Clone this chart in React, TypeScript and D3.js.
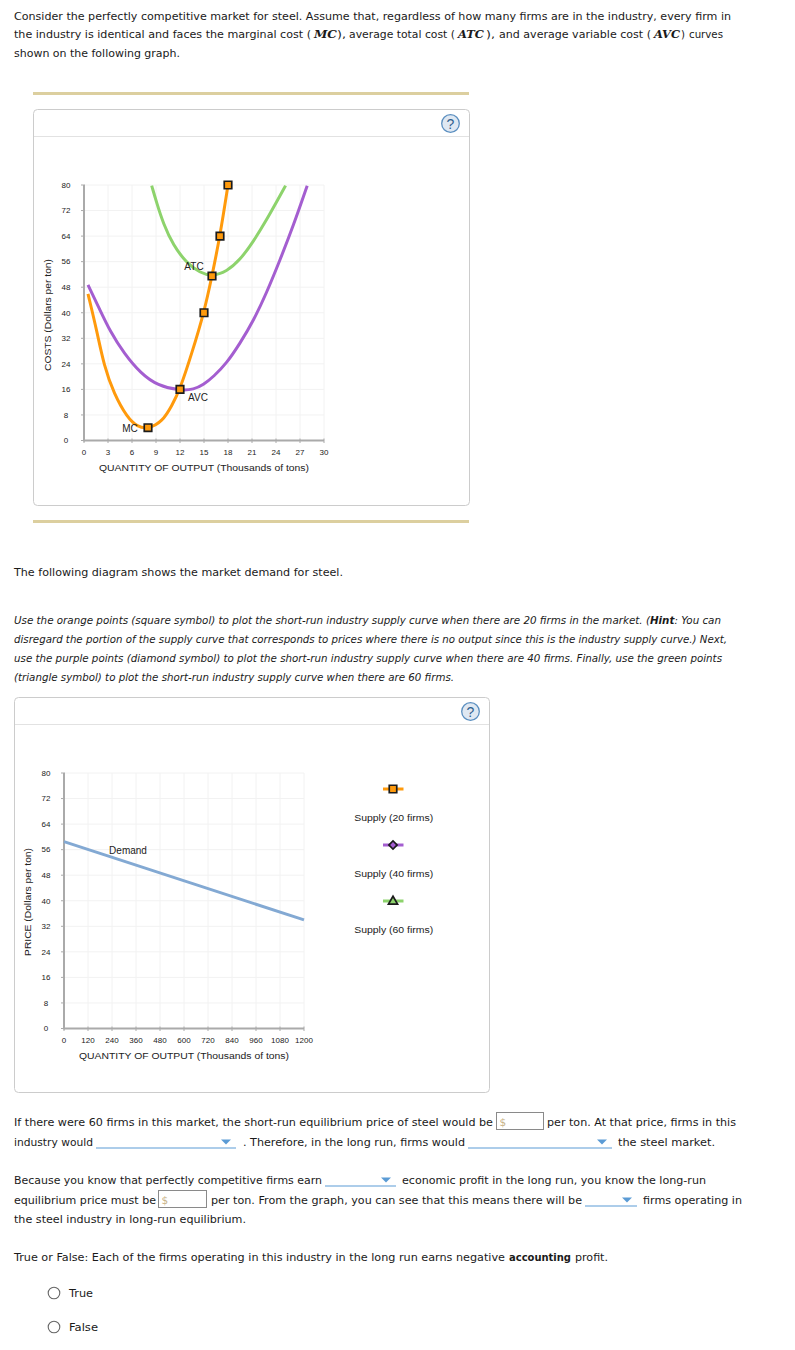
import React from "react";
import * as d3 from "d3";

// ---------- data ----------
const priceTicks = [0, 8, 16, 24, 32, 40, 48, 56, 64, 72, 80];
const firmQtyTicks = [0, 3, 6, 9, 12, 15, 18, 21, 24, 27, 30];
const marketQtyTicks = [0, 120, 240, 360, 480, 600, 720, 840, 960, 1080, 1200];

const mcCurve: [number, number][] = [[0.5, 45.9], [1.6, 34.4], [2.5, 23.4], [3.75, 14.6], [5.4, 7.2], [6.67, 4.3], [8, 3.6], [9.8, 5.9], [11, 11], [12, 16], [13.5, 27.5], [15, 40], [16, 51.5], [17, 64], [18, 80]];
const avcCurve: [number, number][] = [[0.5, 48.7], [1.9, 41.4], [3.3, 34], [5, 27.3], [7.1, 21], [9.2, 17.2], [12, 15.6], [13.75, 16], [14.9, 17.4], [16.2, 20], [17.83, 24.2], [19.5, 30.4], [21.2, 37.6], [22.8, 46.1], [24.5, 56.5], [26.2, 67.5], [27.9, 79.8]];
const atcCurve: [number, number][] = [[8.46, 79.8], [9.1, 74.3], [9.9, 68], [11.17, 61], [12.83, 55.6], [14.5, 52.5], [16, 51.4], [17.83, 52.9], [19.5, 56.5], [21.2, 62.4], [22.8, 69], [24.2, 75.3], [25.2, 79.8]];
const mcPoints: [number, number][] = [[8, 4], [12, 16], [15, 40], [16, 51.5], [17, 64], [18, 80]];
const demandLine: [number, number][] = [[0, 58.5], [1200, 34]];

const firmLabels: [string, number, number][] = [["ATC", 13.75, 54.65], ["AVC", 14.25, 13.6], ["MC", 5.75, 3.9]];
const marketLabels: [string, number, number][] = [["Demand", 320, 55.8]];
const legendNames = ["Supply (20 firms)", "Supply (40 firms)", "Supply (60 firms)"];

// text runs: [text, x start, x end, baseline, style]
type Run = [string, number, number, number, string?];
const hintParts = ["Use the orange points (square symbol) to plot the short-run industry supply curve when there are 20 firms in the market. (", "Hint", ": You can"];
const bodyRuns: Run[] = [
  ["Consider the perfectly competitive market for steel. Assume that, regardless of how many firms are in the industry, every firm in", 14, 731, 20],
  ["the industry is identical and faces the marginal cost (", 14, 311, 38],
  ["MC", 314, 337, 38, "m"],
  ["),", 337, 346, 38],
  ["average total cost (", 349, 455, 38],
  ["ATC", 458, 484, 38, "m"],
  ["),", 486, 495, 38],
  ["and average variable cost (", 499, 651, 38],
  ["AVC", 654, 680, 38, "m"],
  [")", 681, 685, 38],
  ["curves", 689, 723, 38],
  ["shown on the following graph.", 14, 180, 57],
  ["The following diagram shows the market demand for steel.", 14, 343, 576],
  ["disregard the portion of the supply curve that corresponds to prices where there is no output since this is the industry supply curve.) Next,", 14, 727, 643, "i"],
  ["use the purple points (diamond symbol) to plot the short-run industry supply curve when there are 40 firms. Finally, use the green points", 14, 722, 662, "i"],
  ["(triangle symbol) to plot the short-run industry supply curve when there are 60 firms.", 14, 454, 681, "i"],
  ["If there were 60 firms in this market, the short-run equilibrium price of steel would be", 14, 493, 1126],
  ["per ton. At that price, firms in this", 547, 736, 1126],
  ["industry would", 14, 93, 1146],
  [". Therefore, in the long run, firms would", 243, 465, 1146],
  ["the steel market.", 618, 715, 1146],
  ["Because you know that perfectly competitive firms earn", 14, 322, 1184],
  ["economic profit in the long run, you know the long-run", 402, 706, 1184],
  ["equilibrium price must be", 14, 156, 1204],
  ["per ton. From the graph, you can see that this means there will be", 211, 582, 1204],
  ["firms operating in", 643, 742, 1204],
  ["the steel industry in long-run equilibrium.", 14, 246, 1223],
  ["True or False: Each of the firms operating in this industry in the long run earns negative", 14, 505, 1261],
  ["accounting", 509, 571, 1261, "b"],
  ["profit.", 575, 608, 1261],
  ["True", 69, 93, 1297],
  ["False", 69, 98, 1331],
];
const dropdowns: [number, number, number][] = [[96, 236, 1148], [468, 612, 1148], [325, 396, 1186], [585, 637, 1206]];
const inputBoxes: [number, number, number, number][] = [[497, 1112, 47, 18], [159, 1190, 48, 18]];
const radioYs = [1293, 1327];

const SANS = "'Liberation Sans', Arial, sans-serif";
const BODY = "'DejaVu Sans', Verdana, sans-serif";
const C = { mc: "#ff9a0c", avc: "#a45ed0", atc: "#8dd36c", dem: "#83a9d3", grid: "#f2f2f2", axis: "#aaaaaa", ink: "#222222" };

const curveLine = (x: d3.ScaleLinear<number, number>, y: d3.ScaleLinear<number, number>) =>
  d3.line<[number, number]>().x(d => x(d[0])).y(d => y(d[1])).curve(d3.curveBasis);

function Panel({ x, y, w, h, head }: { x: number; y: number; w: number; h: number; head: number }) {
  const cx = x + w - 18.5;
  const cy = y + 14.5;
  return (
    <g>
      <rect x={x + 0.5} y={y + 0.5} width={w} height={h} rx={4} fill="#fff" stroke="#cccccc" />
      <line x1={x + 1} x2={x + w} y1={head + 0.5} y2={head + 0.5} stroke="#e2e2e2" />
      <circle cx={cx} cy={cy} r={8.8} fill="#dfe8f2" stroke="#5b8fc0" strokeWidth={1.3} />
      <text x={cx} y={cy + 5} textAnchor="middle" fontFamily={SANS} fontSize={14} fontWeight={400} fill="#2f5f8f">?</text>
    </g>
  );
}

function Axes({ x, y, xTicks, yTitle, yTitleX, yLen, yTitleMid, xTitleLeft, yLabelX }: {
  x: d3.ScaleLinear<number, number>; y: d3.ScaleLinear<number, number>; xTicks: number[];
  yTitle: string; yTitleX: number; yLen: number; yTitleMid: number; xTitleLeft: number; yLabelX: number;
}) {
  const [x0, x1] = x.range();
  const [y0, y1] = y.range();
  return (
    <g>
      {xTicks.slice(1).map(t => <line key={t} x1={x(t)} x2={x(t)} y1={y0} y2={y1} stroke={C.grid} />)}
      {priceTicks.slice(1).map(t => <line key={t} x1={x0} x2={x1} y1={y(t)} y2={y(t)} stroke={C.grid} />)}
      <line x1={x0} x2={x0} y1={y0 + 1} y2={y1} stroke={C.axis} strokeWidth={2} />
      <line x1={x0} x2={x1} y1={y0} y2={y0} stroke={C.axis} strokeWidth={2} />
      {priceTicks.map(t => <line key={t} x1={x0 - 3} x2={x0 + 1} y1={y(t)} y2={y(t)} stroke={C.axis} />)}
      {xTicks.map(t => <line key={t} x1={x(t)} x2={x(t)} y1={y0 - 2} y2={y0 + 2.5} stroke={C.axis} />)}
      {priceTicks.map(t => (
        <text key={t} x={yLabelX} y={y(t) + 2.8} textAnchor="middle" fontFamily={SANS} fontSize={8} fill={C.ink}>{t}</text>
      ))}
      {xTicks.map(t => (
        <text key={t} x={x(t)} y={y0 + 14.5} textAnchor="middle" fontFamily={SANS} fontSize={8} fill={C.ink}>{t}</text>
      ))}
      <text x={xTitleLeft} y={y0 + 30.5} textLength={210} lengthAdjust="spacingAndGlyphs" fontFamily={SANS} fontSize={9.6} fill={C.ink}>QUANTITY OF OUTPUT (Thousands of tons)</text>
      <text transform={`translate(${yTitleX},${yTitleMid}) rotate(-90)`} textAnchor="middle" textLength={yLen} lengthAdjust="spacingAndGlyphs" fontFamily={SANS} fontSize={9.6} fill={C.ink}>{yTitle}</text>
    </g>
  );
}

function Square({ cx, cy }: { cx: number; cy: number }) {
  const d = d3.symbol(d3.symbolSquare, 56)() as string;
  return <path d={d} transform={`translate(${cx},${cy})`} fill={C.mc} stroke="#1c1c1c" strokeWidth={1.7} />;
}

export default function App() {
  const xFirm = d3.scaleLinear().domain([0, 30]).range([84, 324]);
  const yFirm = d3.scaleLinear().domain([0, 80]).range([440.5, 185]);
  const xMkt = d3.scaleLinear().domain([0, 1200]).range([64, 304]);
  const yMkt = d3.scaleLinear().domain([0, 80]).range([1028.5, 773]);
  const lf = curveLine(xFirm, yFirm);
  const lm = curveLine(xMkt, yMkt);
  const legendYs = d3.scalePoint<string>().domain(legendNames).range([789, 901]);
  const legendColors = [C.mc, C.avc, C.atc];
  const diamond = d3.symbol(d3.symbolSquare, 34)() as string;
  const triangle = d3.symbol(d3.symbolTriangle, 36)() as string;

  return (
    <svg width={795} height={1350} viewBox="0 0 795 1350" style={{ position: "absolute", left: 0, top: 0, display: "block", background: "#fff" }}>
      <rect x={33} y={92} width={436} height={3} fill="#dccf9f" />
      <rect x={33} y={520} width={436} height={3} fill="#dccf9f" />
      <Panel x={33} y={109} w={436} h={396} head={136} />
      <Panel x={14} y={697} w={475} h={395} head={724} />

      <Axes x={xFirm} y={yFirm} xTicks={firmQtyTicks} yTitle="COSTS (Dollars per ton)" yTitleX={50.5} yLen={112} yTitleMid={315} xTitleLeft={99} yLabelX={66} />
      <path d={lf(atcCurve) as string} fill="none" stroke={C.atc} strokeWidth={3} />
      <path d={lf(avcCurve) as string} fill="none" stroke={C.avc} strokeWidth={3} />
      <path d={lf(mcCurve) as string} fill="none" stroke={C.mc} strokeWidth={3} />
      {mcPoints.map(p => <Square key={p[0]} cx={xFirm(p[0])} cy={yFirm(p[1])} />)}
      {firmLabels.map(([s, a, b]) => (
        <text key={s} x={xFirm(a)} y={yFirm(b) + 3.6} textAnchor="middle" fontFamily={SANS} fontSize={10} fill={C.ink}>{s}</text>
      ))}

      <Axes x={xMkt} y={yMkt} xTicks={marketQtyTicks} yTitle="PRICE (Dollars per ton)" yTitleX={30.5} yLen={108} yTitleMid={902} xTitleLeft={79} yLabelX={46} />
      <path d={lm(demandLine) as string} fill="none" stroke={C.dem} strokeWidth={3} />
      {marketLabels.map(([s, a, b]) => (
        <text key={s} x={xMkt(a)} y={yMkt(b) + 3.6} textAnchor="middle" fontFamily={SANS} fontSize={10} fill={C.ink}>{s}</text>
      ))}

      {legendNames.map((n, i) => {
        const ly = legendYs(n) as number;
        return (
          <g key={n}>
            <line x1={383} x2={403.5} y1={ly} y2={ly} stroke={legendColors[i]} strokeWidth={3} />
            {i === 0 && <Square cx={393} cy={ly} />}
            {i === 1 && <path d={diamond} transform={`translate(393,${ly}) rotate(45)`} fill={C.avc} stroke="#1c1c1c" strokeWidth={1.7} />}
            {i === 2 && <path d={triangle} transform={`translate(393,${ly + 0.5})`} fill={C.atc} stroke="#1c1c1c" strokeWidth={1.7} />}
            <text x={393.7} y={ly + 32} textAnchor="middle" textLength={79} lengthAdjust="spacingAndGlyphs" fontFamily={SANS} fontSize={9.6} fill={C.ink}>{n}</text>
          </g>
        );
      })}

      <text x={14} y={624} textLength={707} lengthAdjust="spacingAndGlyphs" fontFamily={BODY} fontSize={10.5} fontStyle="italic" fill="#1a1a1a">
        {hintParts[0]}<tspan fontWeight={700}>{hintParts[1]}</tspan>{hintParts[2]}
      </text>

      {bodyRuns.map(([s, a, b, y, k], i) => (
        <text
          key={i}
          x={a}
          y={y}
          textLength={b - a}
          lengthAdjust="spacingAndGlyphs"
          fontFamily={k === "m" ? "'DejaVu Serif', serif" : BODY}
          fontSize={k === "m" ? 11.5 : 10.5}
          fontStyle={k === "i" || k === "m" ? "italic" : "normal"}
          fontWeight={k === "b" || k === "m" ? 700 : 400}
          fill="#1a1a1a"
        >{s}</text>
      ))}

      {dropdowns.map(([a, b, y]) => (
        <g key={a}>
          <line x1={a} x2={b} y1={y} y2={y} stroke="#5b9bd5" strokeWidth={1} />
          <path d={`M${b - 15},${y - 8.5}h10l-5,5z`} fill="#5b9bd5" />
        </g>
      ))}
      {inputBoxes.map(([x, y, w, h]) => (
        <g key={x}>
          <rect x={x - 0.5} y={y + 0.5} width={w} height={h - 1} fill="#fff" stroke="#8a8a8a" />
          <text x={x + 2.5} y={y + 13.5} fontFamily={BODY} fontSize={10.5} fill="#c9b48a">$</text>
        </g>
      ))}
      {radioYs.map(y => <circle key={y} cx={54} cy={y} r={5.8} fill="#fff" stroke="#666" strokeWidth={1.1} />)}
    </svg>
  );
}
